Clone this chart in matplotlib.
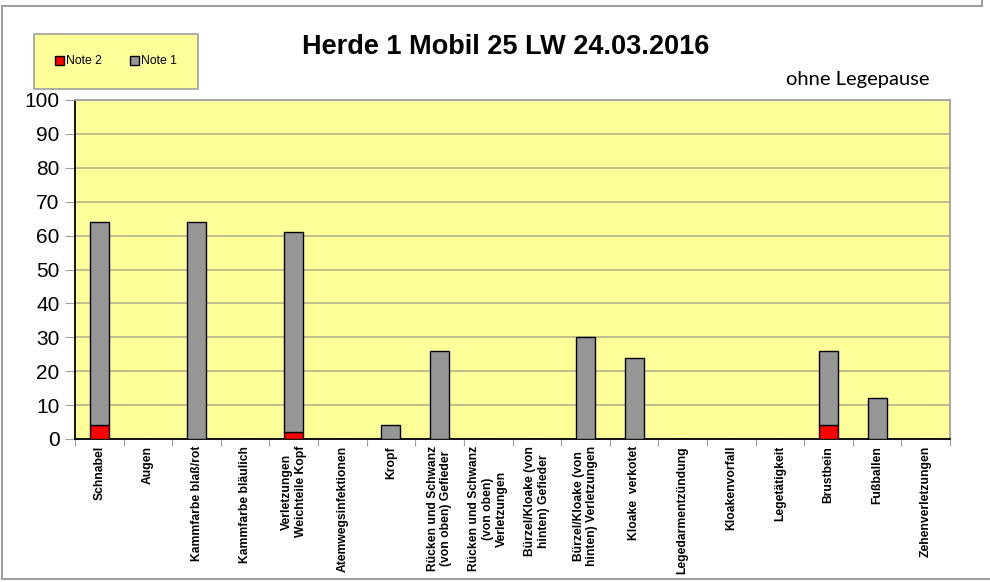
"""Herde 1 Mobil - stacked bar chart of findings (Note 1 / Note 2)."""

import matplotlib
matplotlib.use("Agg")
import matplotlib.pyplot as plt
from matplotlib.lines import Line2D
import numpy as np

categories = [
    "Schnabel",
    "Augen",
    "Kammfarbe blaß/rot",
    "Kammfarbe bläulich",
    "Verletzungen\nWeichteile Kopf",
    "Atemwegsinfektionen",
    "Kropf",
    "Rücken und Schwanz\n(von oben) Gefieder",
    "Rücken und Schwanz\n(von oben)\nVerletzungen",
    "Bürzel/Kloake (von\nhinten) Gefieder",
    "Bürzel/Kloake (von\nhinten) Verletzungen",
    "Kloake  verkotet",
    "Legedarmentzündung",
    "Kloakenvorfall",
    "Legetätigkeit",
    "Brustbein",
    "Fußballen",
    "Zehenverletzungen",
]
note2 = [4, 0, 0, 0, 2, 0, 0, 0, 0, 0, 0, 0, 0, 0, 0, 4, 0, 0]
note1 = [60, 0, 64, 0, 59, 0, 4, 26, 0, 0, 30, 24, 0, 0, 0, 22, 12, 0]
y_ticks = [0, 10, 20, 30, 40, 50, 60, 70, 80, 90, 100]

title = "Herde 1 Mobil 25 LW 24.03.2016"
subtitle = "ohne Legepause"

YELLOW = "#FFFF99"
GRID = "#b4b48c"
FRAME = "#a0a0a0"

W, H = 990, 582
fig = plt.figure(figsize=(W / 100, H / 100), dpi=100)
fig.patch.set_facecolor("white")

ax = fig.add_axes([75 / W, 1 - 439 / H, (950 - 75) / W, (439 - 100) / H])
ax.set_facecolor(YELLOW)

x = np.arange(len(categories))
width = 0.39
ax.bar(x, note2, width, color="#FF0000", edgecolor="black", linewidth=1.0,
       label="Note 2", zorder=3)
ax.bar(x, note1, width, bottom=note2, color="#969696", edgecolor="black",
       linewidth=1.0, label="Note 1", zorder=3)

ax.set_xlim(-0.5, len(categories) - 0.5)
ax.set_ylim(0, 100)
ax.set_yticks(y_ticks)
ax.set_yticklabels([str(v) for v in y_ticks], fontsize=15,
                   fontfamily="Liberation Sans")
ax.yaxis.grid(True, color=GRID, linewidth=1.2, zorder=0)
ax.set_axisbelow(True)

# category labels on minor ticks, boundary tick marks on major ticks
ax.set_xticks(np.arange(len(categories) + 1) - 0.5)
ax.set_xticklabels([])
ax.set_xticks(x, minor=True)
ax.set_xticklabels(categories, minor=True, rotation=90, fontsize=8.7,
                   fontweight="bold", fontfamily="Liberation Sans",
                   va="top", ha="center", multialignment="center")
ax.tick_params(axis="x", which="minor", length=0, pad=5)
ax.tick_params(axis="x", which="major", length=5, color=FRAME, direction="out")
ax.tick_params(axis="y", length=7, color=FRAME, direction="out", pad=4)

for side in ("left", "bottom"):
    ax.spines[side].set_color("black")
    ax.spines[side].set_linewidth(1.3)
for side in ("top", "right"):
    ax.spines[side].set_color(FRAME)
    ax.spines[side].set_linewidth(1.3)

fig.text(0.511, 1 - 47 / H, title, ha="center", va="center", fontsize=19.5,
         fontweight="bold", fontfamily="Liberation Sans")
fig.text(930 / W, 1 - 80 / H, subtitle, ha="right", va="center", fontsize=14.5,
         fontfamily="Lato")

leg = fig.legend(loc="center", bbox_to_anchor=(116 / W, 1 - 61.5 / H), ncol=2,
                 prop={"family": "Liberation Sans", "size": 8.8},
                 handlelength=0.7, handleheight=0.7, handletextpad=0.2,
                 columnspacing=2.3, borderpad=1.75, fancybox=False,
                 facecolor=YELLOW, edgecolor=FRAME, framealpha=1)
leg.get_frame().set_linewidth(1.2)

# chart frame
frame_kw = dict(color=FRAME, linewidth=1.5, transform=fig.transFigure)
fig.add_artist(Line2D([2 / W, 2 / W], [1 - 6 / H, 1 - 579 / H], **frame_kw))
fig.add_artist(Line2D([2 / W, 1], [1 - 579 / H, 1 - 579 / H], **frame_kw))
fig.add_artist(Line2D([2 / W, 982 / W], [1 - 6 / H, 1 - 6 / H], **frame_kw))
fig.add_artist(Line2D([982 / W, 982 / W], [1, 1 - 6 / H], **frame_kw))

fig.savefig("out.png", dpi=100)
